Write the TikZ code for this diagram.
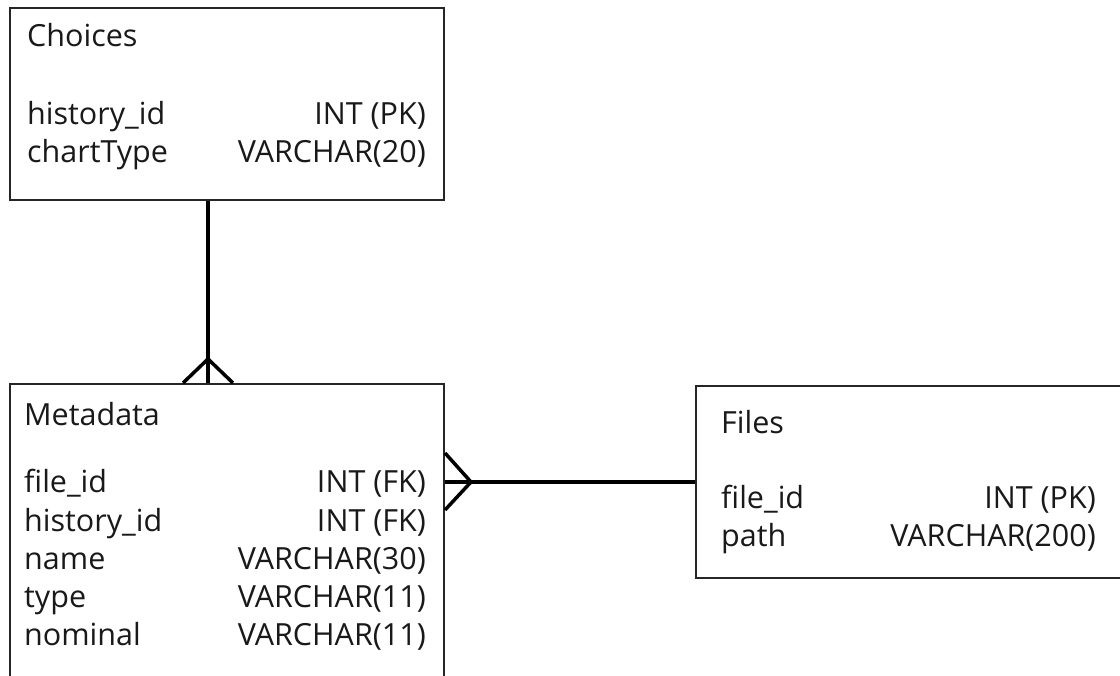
\documentclass[tikz,border=0pt]{standalone}
\usepackage{fontspec}
\setmainfont{Open Sans}
\begin{document}
\begin{tikzpicture}[x=1pt,y=-1pt,
  table/.style={draw=black!85, line width=2pt, fill=white, anchor=north west, inner sep=0pt},
  fieldname/.style={anchor=base west, inner sep=0pt, text=black!90},
  fieldtype/.style={anchor=base east, inner sep=0pt, text=black!90},
  link/.style={draw=black, line width=3.5pt},
  every node/.append style={font=\fontsize{30.5}{36}\selectfont}]
\useasboundingbox (0,0) rectangle (1120,676);
\clip (0,0) rectangle (1120,676);
\fill[white] (0,0) rectangle (1120,676);

% Tables
\node[table, minimum width=434pt, minimum height=192pt] (choices) at (9,7) {};
\node[table, minimum width=434pt, minimum height=340pt] (metadata) at (9,383) {};
\node[table, minimum width=460pt, minimum height=192pt] (files) at (695,385) {};

% Choices
\node[fieldname] (ch-title) at (27,47) {Choices};
\node[fieldname] (ch-f1) at (27,125) {history\_id};
\node[fieldtype] (ch-t1) at (426,125) {INT (PK)};
\node[fieldname] (ch-f2) at (27,163) {chartType};
\node[fieldtype] (ch-t2) at (426,163) {VARCHAR(20)};

% Metadata
\node[fieldname] (md-title) at (24,425) {Metadata};
\node[fieldname] (md-f1) at (24,493) {file\_id};
\node[fieldtype] (md-t1) at (426,493) {INT (FK)};
\node[fieldname] (md-f2) at (24,531) {history\_id};
\node[fieldtype] (md-t2) at (426,531) {INT (FK)};
\node[fieldname] (md-f3) at (24,569) {name};
\node[fieldtype] (md-t3) at (426,569) {VARCHAR(30)};
\node[fieldname] (md-f4) at (24,607) {type};
\node[fieldtype] (md-t4) at (426,607) {VARCHAR(11)};
\node[fieldname] (md-f5) at (24,645) {nominal};
\node[fieldtype] (md-t5) at (426,645) {VARCHAR(11)};

% Files
\node[fieldname] (fi-title) at (721,433) {Files};
\node[fieldname] (fi-f1) at (721,508) {file\_id};
\node[fieldtype] (fi-t1) at (1096,508) {INT (PK)};
\node[fieldname] (fi-f2) at (721,546) {path};
\node[fieldtype] (fi-t2) at (1096,546) {VARCHAR(200)};

% Choices 1 -- many Metadata
\coordinate (c-top) at ([xshift=199pt]choices.south west);
\coordinate (c-bot) at ([xshift=199pt]metadata.north west);
\draw[link] (c-top) -- (c-bot);
\draw[link, line join=miter] ([xshift=-25pt]c-bot) -- ([yshift=24pt]c-bot) -- ([xshift=25pt]c-bot);

% Metadata many -- 1 Files
\coordinate (f-left) at ([yshift=-99pt]metadata.north east);
\coordinate (f-right) at ([yshift=-97pt]files.north west);
\draw[link] (f-left) -- (f-right);
\draw[link, line join=miter] ([yshift=29pt]f-left) -- ([xshift=26pt]f-left) -- ([yshift=-28pt]f-left);
\end{tikzpicture}
\end{document}
